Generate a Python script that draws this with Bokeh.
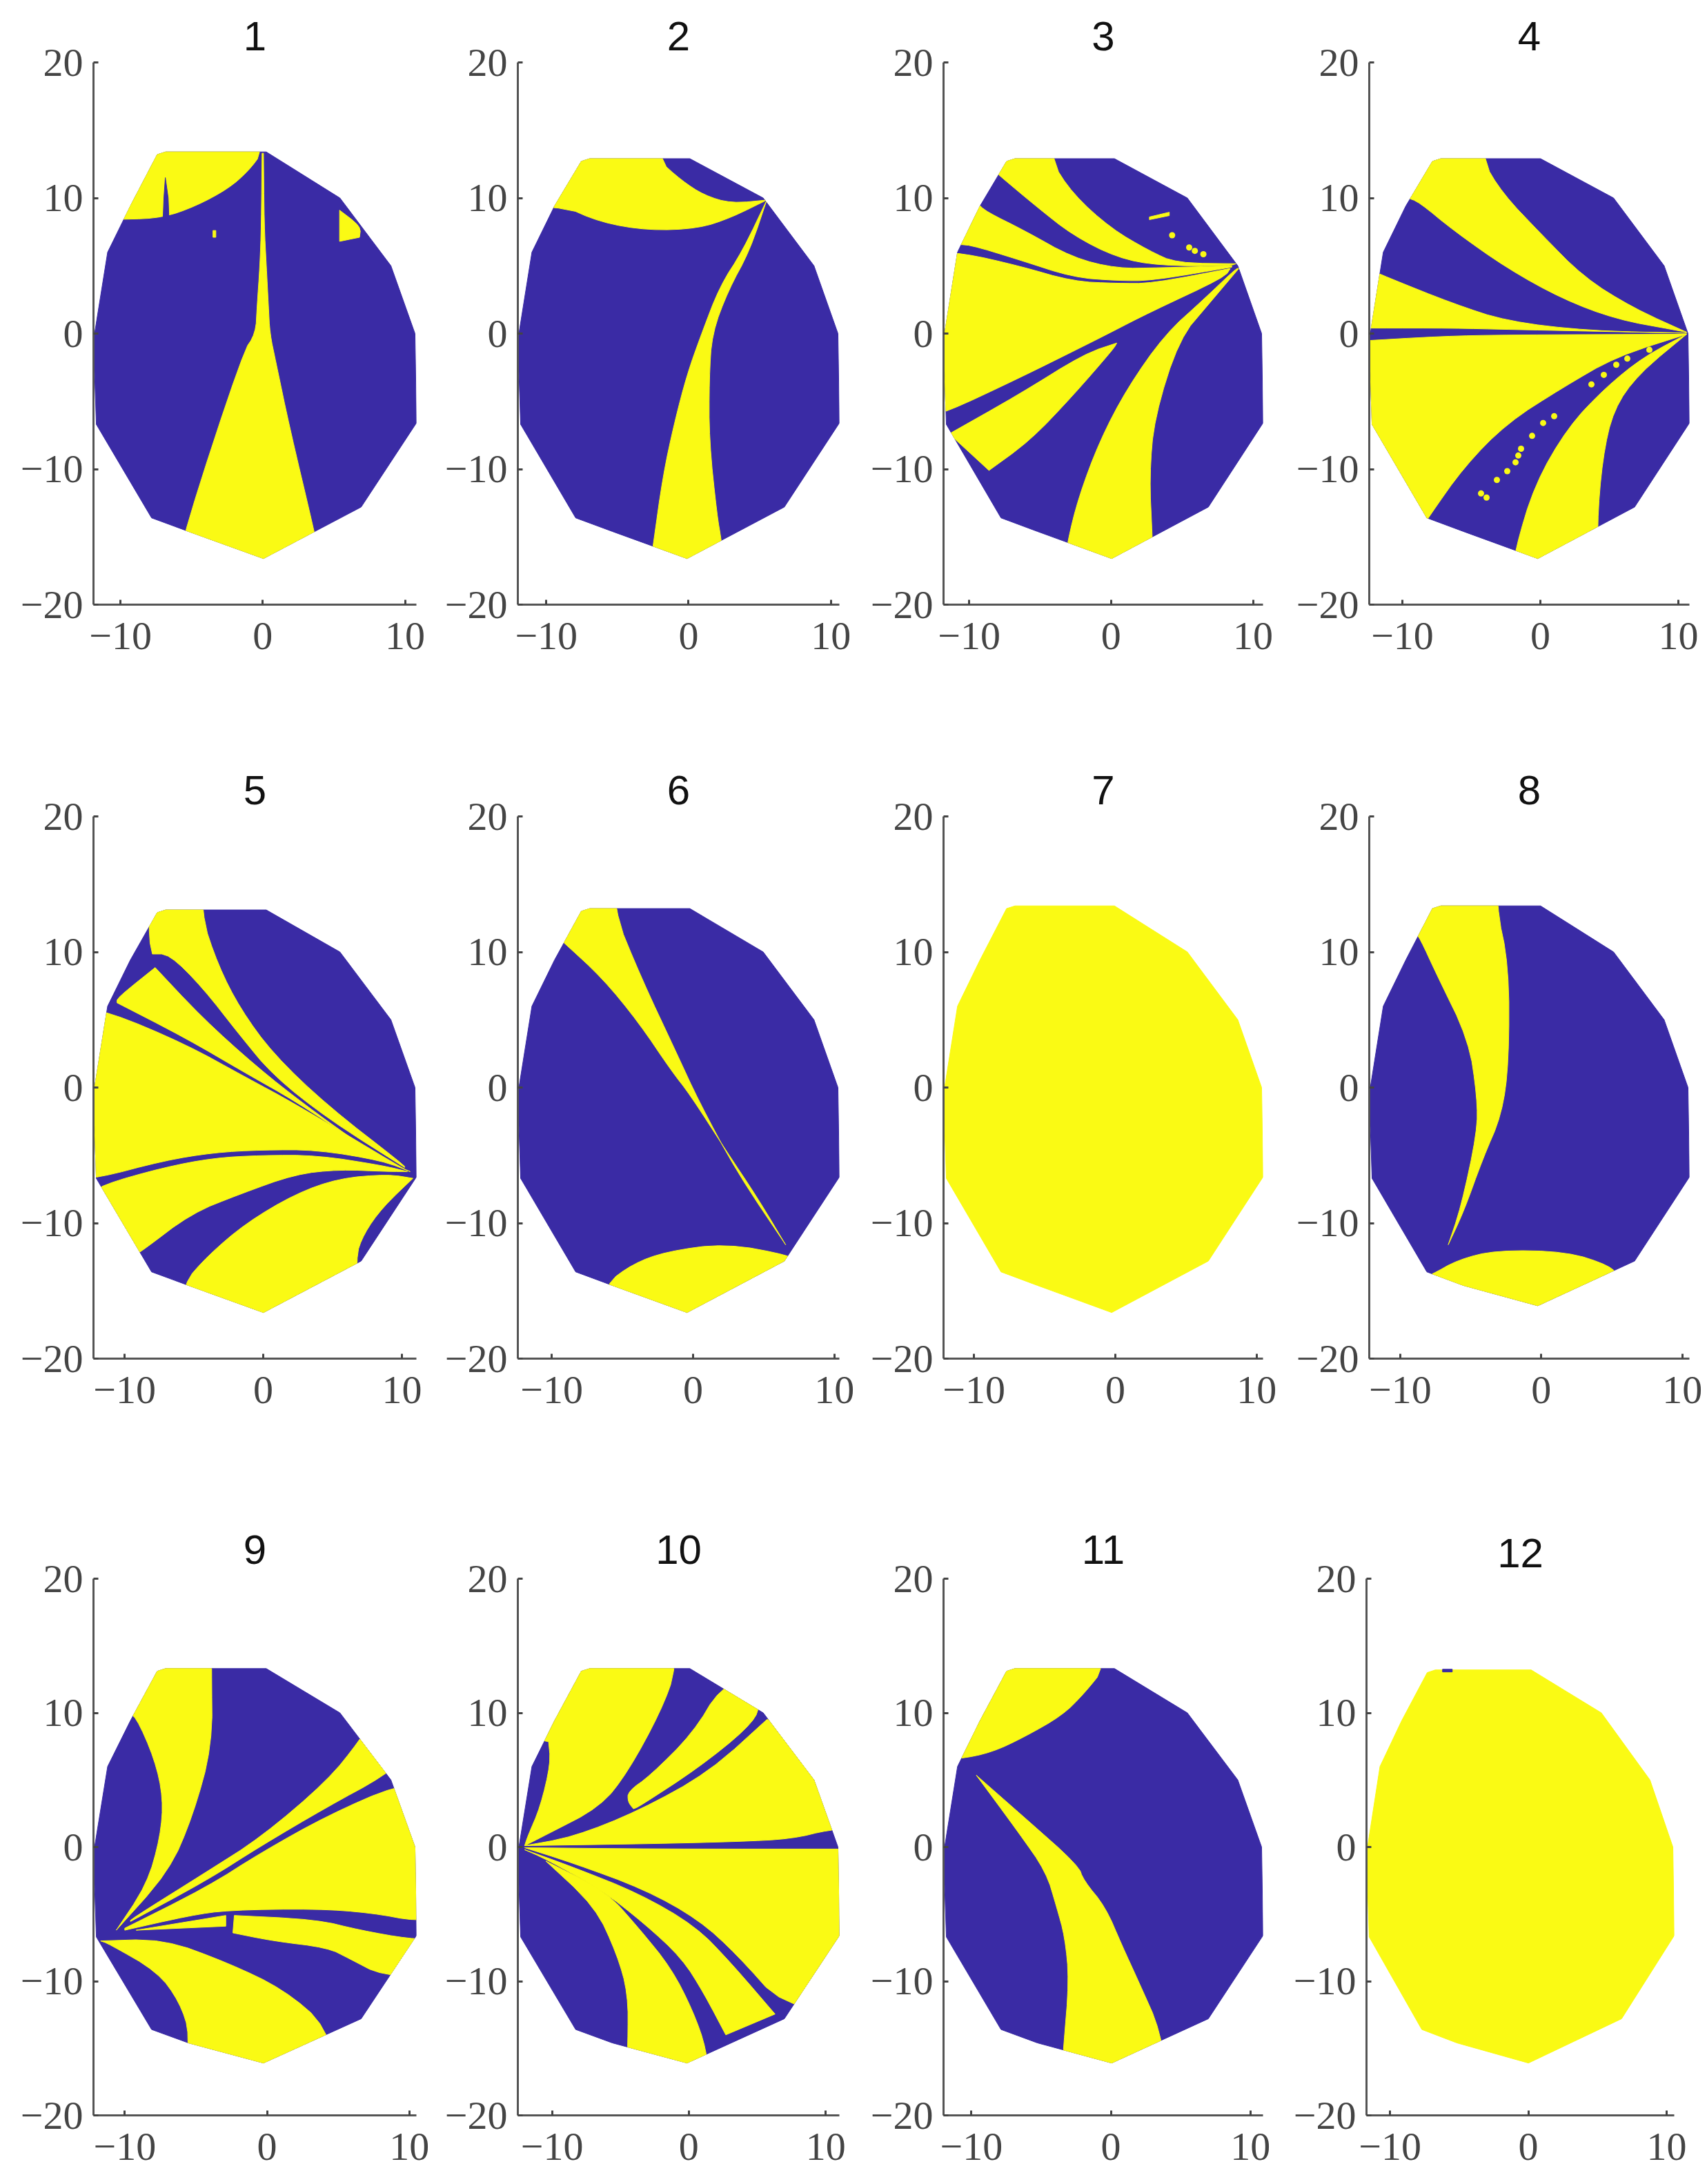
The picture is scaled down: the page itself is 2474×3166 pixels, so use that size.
from bokeh.plotting import figure
from bokeh.layouts import column, row
from bokeh.models import FixedTicker
from bokeh.embed import file_html
from bokeh.resources import INLINE

BLUE = "#3A2BA5"
YELLOW = "#FAFA14"

panel_titles = ["1", "2", "3", "4", "5", "6", "7", "8", "9", "10", "11", "12"]
x_ticks = [-10, 0, 10]
y_ticks = [-20, -10, 0, 10, 20]

# axis x limits per panel
x_limits = [(-11.9, 10.8), (-12.0, 10.6), (-11.8, 10.7), (-12.4, 10.8),
            (-12.25, 11.05), (-12.4, 10.35), (-12.15, 10.45), (-12.2, 10.5),
            (-12.2, 10.5), (-12.5, 11.0), (-12.0, 10.9), (-11.7, 10.55)]
outline_top = [13.4, 12.9, 12.9, 12.9, 13.1, 13.2, 13.4, 13.4, 13.3, 13.3, 13.3, 13.2]
outline_bottom = [-16.6, -16.6, -16.6, -16.6, -16.6, -16.6, -16.6, -16.1, -16.1, -16.1, -16.1, -16.1]
base_color = [BLUE, BLUE, BLUE, BLUE, BLUE, BLUE, YELLOW, BLUE, BLUE, BLUE, BLUE, YELLOW]

outline_shape = [(-7.5, 13.2), (-6.9, 13.4), (0.2, 13.4), (5.4, 10), (9, 5), (10.7, 0), (10.8, -6.6),
                 (6.9, -12.8), (0, -16.6), (-5.3, -14.6), (-7.9, -13.6), (-11.8, -6.7),
                 (-12, -0.5), (-11, 6), (-9.4, 9.4)]

yellow_1 = [
    [(-20, 8.4), (-9.8, 8.4), (-7, 8.55), (-4.7, 9.4), (-2.4, 10.7), (-1, 12), (0, 13.4), (0, 20), (-20, 20)],
    [(-0.05, 13.3), (-0.1, 8), (-0.2, 5), (-0.4, 2), (-0.5, 0), (-1.4, -1.4), (-5.5, -14.5), (-6.1, -18),
     (4.3, -18), (3.6, -14.5), (1.9, -7), (0.9, -2), (0.5, 0), (0.4, 2), (0.25, 5), (0.1, 8), (0.05, 13.3)],
    [(5.4, 9.1), (6.9, 7.9), (6.8, 7.1), (5.4, 6.8)],
    [(-3.5, 7.6), (-3.3, 7.6), (-3.3, 7.1), (-3.5, 7.1)],
]
blue_1 = [[(-6.85, 11.5), (-6.65, 10), (-6.6, 8.6), (-7, 8.6), (-6.95, 10)]]

yellow_2 = [
    [(-20, 9.5), (-9, 9.5), (-6.2, 8.2), (-2.8, 7.6), (0.7, 7.75), (3, 8.55), (5.5, 9.85), (3, 9.6), (1.1, 10.2),
     (-0.5, 11.3), (-2.2, 12.9), (-2.4, 20), (-20, 20)],
    [(5.5, 9.85), (3.8, 6.1), (2.2, 3.5), (0.9, -0.05), (-0.1, -3), (-1, -6.6), (-1.8, -10.5), (-2.5, -15.7),
     (-2.8, -18), (2.6, -18), (2.3, -15.2), (2, -13.4), (1.45, -7.9), (1.45, -3.3), (1.65, 0), (2.8, 3.2), (4.3, 6.1)],
]

yellow_3 = [
    [(-8, 11.8), (-7.8, 11.6), (-5.3, 9.4), (-2.7, 7.25), (0.4, 5.6), (3.4, 5), (8.4, 5), (8.8, 5.15), (4.6, 5.2),
     (2.7, 6.1), (0, 7.75), (-2.7, 10.3), (-4.3, 12.9), (-4.3, 20), (-7.6, 20)],
    [(-9.4, 9.6), (-8.8, 9), (-6.1, 7.6), (-2.7, 5.6), (0.4, 4.8), (3.4, 4.85), (8.5, 5), (8.5, 4.9), (2.9, 3.9),
     (0.4, 3.9), (-2.7, 4.15), (-6.5, 5.45), (-10.1, 6.6), (-11, 6.5)],
    [(-13, 6), (-10.5, 5.95), (-6.5, 5), (-2.7, 3.85), (0.4, 3.7), (2.9, 3.7), (8.4, 4.8), (8, 4.15), (2.7, 1.55),
     (0, 0.1), (-1.5, -0.7), (-6.5, -3.3), (-11.8, -5.9), (-13, -6)],
    [(-11.4, -7.4), (-6.5, -4.5), (-1.9, -1.5), (0.4, -0.7), (0.2, -1.1), (-2.7, -4.6), (-5.7, -7.9), (-8.6, -10.1)],
    [(-3.1, -15.5), (-2.3, -12.1), (-0.8, -7.9), (1.15, -4), (3.8, -0.05), (6.5, 2.5), (8.8, 4.8), (9, 4.8), (6.9, 2.2),
     (4.8, -0.4), (3.05, -6.2), (2.7, -10.5), (2.9, -15), (3, -18), (-3.4, -18)],
    [(2.7, 8.6), (4.1, 8.95), (4.1, 8.7), (2.7, 8.4)],
]
dots_3 = [(5.5, 6.35), (6.5, 5.85), (4.3, 7.25), (5.9, 6.1)]

yellow_4 = [
    [(-9.6, 10), (-8.8, 9.7), (-6.3, 7.6), (-2.4, 4.8), (1.6, 2.55), (5.5, 1.05), (9.8, 0.25), (10.6, 0.1), (6.7, 1.9),
     (3.15, 4.15), (0, 7.4), (-2.75, 10.35), (-4.25, 12.9), (-4.25, 20), (-9, 20)],
    [(-13, 5), (-11.1, 4.15), (-6.3, 2.2), (-2.4, 0.9), (3.5, 0.2), (10.6, 0.03), (-2.4, 0.3), (-6.3, 0.4), (-12.2, 0.4), (-13, 0.4)],
    [(-13, -0.55), (-7.1, -0.2), (-2.4, -0.1), (10.6, -0.05), (5.5, -1.7), (1.6, -4), (-2.4, -6.6), (-5.5, -9.8),
     (-8.1, -13.55), (-9, -15), (-13, -8)],
    [(10.6, -0.05), (7.5, -1.7), (4.7, -4), (2, -6.9), (-0.4, -11.1), (-1.85, -16), (-2, -18), (4.3, -18), (4.1, -14.2),
     (4.5, -9.2), (5.3, -5.6), (7.1, -3)],
]
dots_4 = [(1, -6.1), (3.7, -3.75), (4.6, -3.05), (-3.9, -12.1), (-4.3, -11.8), (-1.6, -9), (-1.8, -9.5), (-1.4, -8.5),
          (-0.6, -7.55), (0.2, -6.6), (-3.15, -10.8), (-2.4, -10.15), (5.5, -2.3), (6.3, -1.85), (7.9, -1.2)]

yellow_5 = [
    [(-8.3, 11.3), (-8, 9.85), (-6.8, 9.85), (-4.4, 7.4), (-1.65, 3.8), (0.7, 0.9), (4.65, -2.3), (10.2, -5.9), (10.2, -5.75),
     (4.65, -1.35), (0.7, 2.5), (-1.65, 5.8), (-3.25, 9), (-4.5, 12.8), (-4.5, 20), (-8, 20)],
    [(-10.55, 6.6), (-7.8, 8.85), (-4.4, 5.15), (-0.5, 1.55), (3.1, -1.35), (6.65, -3.95), (2.3, -1), (-1.25, 1.05),
     (-5.6, 3.65), (-10.55, 6.25)],
    [(-14, 6), (-11.15, 5.6), (-5.6, 3.2), (-1.25, 0.75), (2.3, -1.2), (10.2, -6.05), (10.6, -6.2), (8.6, -5.4), (3.9, -4.6),
     (-0.1, -4.6), (-3.6, -4.8), (-7.2, -5.4), (-12, -6.7), (-14, -6.7)],
    [(-12.5, -8), (-11.7, -7.2), (-7.2, -5.9), (-3.6, -5.2), (-0.1, -5), (3.9, -5), (8.6, -5.75), (10.4, -6.2), (9, -6.2),
     (5.45, -6.05), (2.3, -6.4), (-1.65, -7.85), (-5.2, -9.3), (-8.8, -12.1), (-9.5, -12.5)],
    [(-5.8, -14.5), (-4, -12.4), (-1.25, -10), (2.3, -7.85), (5.45, -6.7), (9, -6.4), (10.8, -6.7), (8.6, -8.85), (7.25, -10.8),
     (6.65, -12.55), (7, -18), (-6, -18)],
]

yellow_6 = [
    [(-9.5, 11), (-9.1, 10.65), (-6.4, 8.05), (-3.85, 4.8), (-1.55, 1.25), (-0.2, -0.55), (2.3, -4.6), (4.6, -8.2), (6.55, -11.6),
     (3.1, -6.25), (0.4, -1), (-1.15, 2.5), (-3.65, 8.05), (-5.7, 13.25), (-5.7, 20), (-9.5, 20)],
    [(-6.2, -14.5), (-4.25, -13), (-1.9, -12.1), (2.3, -11.5), (6.95, -12.4), (7.5, -13), (7.5, -18), (-7, -18)],
    [(7.3, -12), (8.8, -9.2), (9.6, -9.2), (8, -12.4)],
]

yellow_8 = [
    [(-9, 11.5), (-8.6, 11), (-7.45, 8.4), (-5.15, 3.5), (-4.55, -0.7), (-4.55, -3.3), (-5.7, -8.85), (-6.6, -11.6), (-5.5, -9.15),
     (-4.15, -5.25), (-2.8, -2), (-2.3, 1.9), (-2.3, 9), (-3.2, 13.4), (-3.2, 20), (-9, 20)],
    [(-8.5, -14), (-7.85, -13.85), (-5.9, -12.7), (-3.2, -12), (1.8, -12.1), (4.9, -13.15), (5.5, -14), (5.5, -18), (-8.5, -18)],
]

yellow_9 = [
    [(-9.9, 10), (-9.25, 9.8), (-7.9, 6.55), (-7.3, 3.65), (-7.5, 0.75), (-8.45, -2.8), (-10.6, -6.2), (-6.9, -1.85), (-5.2, 2.35),
     (-3.85, 7.55), (-3.9, 13.3), (-3.9, 20), (-9, 20)],
    [(7, 9), (6.55, 8), (4.25, 4.95), (-0.4, 0.75), (-4.25, -1.85), (-9.6, -5.4), (-9.6, -5.55), (-4.25, -2.5), (-0.4, 0.1), (4.25, 3),
     (8.25, 5.3), (10, 7)],
    [(12, 4.65), (9.2, 4.65), (4.25, 2.35), (-0.4, -0.4), (-4.25, -3), (-10, -6.05), (-10, -6.2), (-5.4, -5.1), (-2.7, -4.7),
     (3.45, -4.6), (7.3, -4.9), (10.6, -5.55), (12, -5.1)],
    [(12, -6.85), (10, -6.85), (6.55, -6.2), (3.45, -5.4), (-2.3, -5.1), (-2.4, -6.4), (0.4, -7), (4.25, -7.5), (5.75, -8.3),
     (8.1, -9.6), (12, -9.6)],
    [(-2.9, -5.1), (-9.2, -6.2), (-2.9, -5.9)],
    [(-11.7, -7), (-7.3, -6.85), (-2.7, -8.65), (1.15, -10.6), (4.25, -13.4), (5, -18), (-6, -18), (-5.4, -14), (-6.15, -11.55),
     (-7.7, -9.3), (-11.15, -7.2)],
]

yellow_10 = [
    [(-9, 20), (-11, 8), (-10.25, 7.85), (-10.1, 6.25), (-10.85, 3), (-11.8, 0.75), (-12, 0.1), (-10.45, 0.9), (-6.45, 3),
     (-4.45, 5.6), (-2.05, 10.1), (-0.9, 13.3), (-0.9, 20)],
    [(4.5, 12.5), (2.3, 11.9), (0.3, 8.5), (-2.85, 5.3), (-4.45, 4.15), (-4.45, 3.35), (-4.05, 2.85), (-3.65, 3), (0.7, 5.9), (4.3, 8.85),
     (5.3, 10.45)],
    [(12, 9), (5.7, 9.5), (1.5, 5.6), (-3.65, 2.7), (-8.45, 0.75), (-12, 0.1), (-2.45, 0.25), (3.5, 0.4), (7.5, 0.6), (10.3, 1.3), (12, 1.3)],
    [(-12, -0.05), (-2.45, -0.15), (12, -0.15), (12, -12), (6.9, -11.9), (3.5, -8), (0.7, -5.4), (-3.25, -3.15), (-8.45, -1.2)],
    [(6.3, -12.45), (3.1, -8.65), (0.5, -5.9), (-3.65, -3.45), (-8.45, -1.5), (-12, -0.2), (-10.45, -0.9), (-6.45, -3.15), (-3.25, -5.7),
     (-0.5, -8.3), (1.1, -10.9), (2.7, -14)],
    [(-4.45, -14.6), (-4.45, -10.9), (-5.25, -8), (-6.85, -4.45), (-10.45, -1.05), (-6.05, -3.3), (-3.65, -6.05), (-1.3, -9), (0.3, -12.2),
     (1.3, -15.1), (1.5, -18), (-4.6, -18)],
]

yellow_11 = [
    [(-13, 6.55), (-10.9, 6.55), (-8.55, 7.05), (-6.2, 8.2), (-3.5, 9.8), (-1.95, 11.4), (-0.4, 13.4), (-0.4, 20), (-13, 20)],
    [(-9.65, 5.35), (-6.2, 2.2), (-2.35, -1.35), (-1.95, -2.5), (-0.4, -4.45), (0.8, -7.35), (1.95, -9.95), (3.6, -13.8), (4, -18),
     (-3.6, -18), (-3.4, -14.95), (-3, -9.95), (-3.3, -6.7), (-3.9, -4.45), (-4.65, -1.85), (-6.6, 1.05)],
]

blue_12 = [[(-6.2, 13.25), (-5.5, 13.25), (-5.5, 13.05), (-6.2, 13.05)]]

panel_yellow = [yellow_1, yellow_2, yellow_3, yellow_4, yellow_5, yellow_6, [], yellow_8, yellow_9, yellow_10, yellow_11, []]
panel_blue = [blue_1, [], [], [], [], [], [], [], [], [], [], blue_12]
panel_dots = [[], [], dots_3, dots_4, [], [], [], [], [], [], [], []]


def round_corners(poly, passes=2):
    """Cut the gentle corners of a hand-read edge, keeping sharp tips where they are."""
    out = list(poly)
    for _ in range(passes):
        res = []
        n = len(out)
        for j in range(n):
            a, v, b = out[j - 1], out[j], out[(j + 1) % n]
            ux, uy = a[0] - v[0], (a[1] - v[1]) * 1.2
            wx, wy = b[0] - v[0], (b[1] - v[1]) * 1.2
            lu, lw = (ux * ux + uy * uy) ** 0.5, (wx * wx + wy * wy) ** 0.5
            if lu == 0 or lw == 0:
                continue
            cos = (ux * wx + uy * wy) / (lu * lw)
            if cos > -0.6:
                res.append(v)
            else:
                res.append((v[0] + 0.25 * (a[0] - v[0]), v[1] + 0.25 * (a[1] - v[1])))
                res.append((v[0] + 0.25 * (b[0] - v[0]), v[1] + 0.25 * (b[1] - v[1])))
        out = res
    return out


def clip_polygon(subject, clip):
    area = sum(clip[i][0] * clip[(i + 1) % len(clip)][1] - clip[(i + 1) % len(clip)][0] * clip[i][1] for i in range(len(clip)))
    sign = 1 if area > 0 else -1
    out = list(subject)
    for i in range(len(clip)):
        a, b = clip[i], clip[(i + 1) % len(clip)]
        side = lambda q: sign * ((b[0] - a[0]) * (q[1] - a[1]) - (b[1] - a[1]) * (q[0] - a[0]))
        cur, out = out, []
        for j in range(len(cur)):
            p1, p2 = cur[j], cur[(j + 1) % len(cur)]
            s1, s2 = side(p1), side(p2)
            if s1 >= 0:
                out.append(p1)
            if s1 * s2 < 0:
                t = s1 / (s1 - s2)
                out.append((p1[0] + t * (p2[0] - p1[0]), p1[1] + t * (p2[1] - p1[1])))
        if not out:
            break
    return out


def panel_outline(i):
    lo, hi = x_limits[i]
    shape = []
    for x, y in outline_shape:
        nx = lo + (x + 12) / 22.8 * (hi - lo)
        ny = y
        if y >= 13.2:
            ny = outline_top[i] - (13.4 - y)
        if y == -16.6:
            ny = outline_bottom[i]
        shape.append((nx, ny))
    return shape


def patch(p, pts, color):
    p.patch([q[0] for q in pts], [q[1] for q in pts], fill_color=color, line_color=color, line_width=1)


# page layout in pixels
col_starts = [0, 633, 1248, 1868]
col_ends = [633, 1248, 1868, 2470]
row_starts = [0, 1090, 2178]
row_ends = [1090, 2178, 3160]
frame_left = [135, 750, 1367, 1984]
frame_right = [603, 1216, 1830, 2448]
frame_top = [90, 1183, 2280]
frame_bottom = [876, 1969, 3066]
title_gap = [36, 36, 44]

rows = []
for r in range(3):
    figs = []
    for c in range(4):
        i = r * 4 + c
        ftop = frame_top[r] + (8 if i == 11 else 0)
        fl = frame_left[c] if i != 11 else 1980
        fr = frame_right[c] if i != 11 else 2426
        p = figure(width=col_ends[c] - col_starts[c], height=row_ends[r] - row_starts[r],
                   x_range=x_limits[i], y_range=(-20, 20), toolbar_location=None, output_backend="svg",
                   min_border_left=fl - col_starts[c], min_border_right=col_ends[c] - fr,
                   min_border_top=ftop - row_starts[r], min_border_bottom=row_ends[r] - frame_bottom[r],
                   title=panel_titles[i])
        p.title.align = "center"
        p.title.text_font = "Liberation Sans"
        p.title.text_font_size = "60px"
        p.title.text_font_style = "normal"
        p.title.text_color = "#111111"
        p.title.standoff = title_gap[r] if i != 11 else 34
        p.outline_line_color = None
        p.grid.visible = False
        p.background_fill_color = "white"
        for ax, ticks in ((p.xaxis[0], x_ticks), (p.yaxis[0], y_ticks)):
            ax.ticker = FixedTicker(ticks=ticks)
            ax.major_label_overrides = {t: str(t).replace("-", "\u2212") for t in ticks}
            ax.major_label_text_font = "Liberation Serif"
            ax.major_label_text_font_size = "58px"
            ax.major_label_text_color = "#444444"
            ax.axis_line_color = "#555555"
            ax.axis_line_width = 3
            ax.major_tick_line_color = "#444444"
            ax.major_tick_line_width = 3
            ax.major_tick_in = 7
            ax.major_tick_out = 0
            ax.minor_tick_line_color = None
        p.xaxis[0].major_label_standoff = 26
        p.yaxis[0].major_label_standoff = 15

        out_i = panel_outline(i)
        patch(p, out_i, base_color[i])
        for poly in panel_yellow[i]:
            clipped = clip_polygon(round_corners(poly), out_i)
            if len(clipped) >= 3:
                patch(p, clipped, YELLOW)
        for poly in panel_blue[i]:
            patch(p, poly, BLUE)
        if panel_dots[i]:
            p.scatter([q[0] for q in panel_dots[i]], [q[1] for q in panel_dots[i]], size=9,
                      marker="circle", fill_color=YELLOW, line_color=None)
        figs.append(p)
    rows.append(row(*figs, spacing=0))

page = column(*rows, spacing=0)
open("out.html", "w").write(file_html(page, INLINE))
